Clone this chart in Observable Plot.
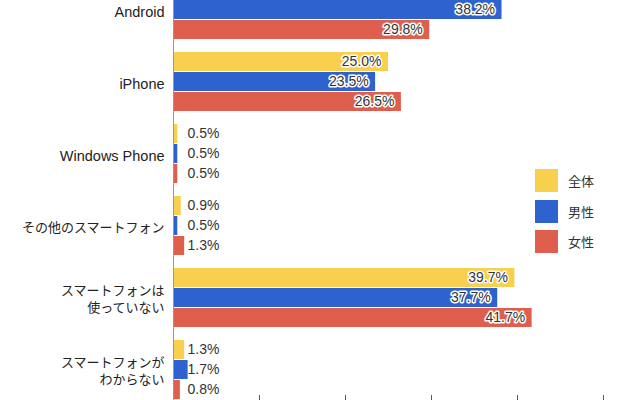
<!DOCTYPE html>
<html><head><meta charset="utf-8">
<script src="https://cdn.jsdelivr.net/npm/d3@7"></script>
<script src="https://cdn.jsdelivr.net/npm/@observablehq/plot@0.6"></script>
<style>
html,body{margin:0;padding:0;background:#fff;}
#wrap{position:relative;width:640px;height:400px;overflow:hidden;}
#chart svg{position:absolute;left:0;top:-28.4px;}
#legend{position:absolute;left:535px;top:169px;font-family:"Noto Sans CJK JP",sans-serif;font-size:13px;color:#333;}
.item{display:flex;align-items:center;height:23px;margin-bottom:7.5px;}
.sw{width:23px;height:23px;margin-right:10px;}
</style></head><body>
<div id="wrap"><div id="chart"></div><div id="legend"></div></div>
<script>
const categories = ["Android", "iPhone", "Windows Phone", "その他のスマートフォン", "スマートフォンは\n使っていない", "スマートフォンが\nわからない"];
const series = ["全体", "男性", "女性"];
const zentai = [34.0, 25.0, 0.5, 0.9, 39.7, 1.3];
const dansei = [38.2, 23.5, 0.5, 0.5, 37.7, 1.7];
const josei  = [29.8, 26.5, 0.5, 1.3, 41.7, 0.8];
const colors = ["#F9CF4E", "#2E63CF", "#DF5F4E"];
const xTicks = [10, 20, 30, 40, 50];

const valuesBySeries = [zentai, dansei, josei];
const rows = categories.flatMap((c, i) => series.map((s, j) => ({category: c, series: s, value: valuesBySeries[j][i]})));
const fmt = d => d.value.toFixed(1) + "%";

const chart = Plot.plot({
  width: 640,
  height: 466.8,
  marginTop: 0,
  marginBottom: 30,
  marginLeft: 173,
  marginRight: 37,
  style: {fontFamily: '"Liberation Sans","Noto Sans CJK JP",sans-serif', fontSize: "14px", background: "#fff"},
  x: {domain: [0, 50]},
  fy: {domain: categories, padding: 0, axis: null},
  y: {domain: series, paddingInner: 0.03, paddingOuter: 0.28, axis: null},
  color: {domain: series, range: colors},
  marks: [
    Plot.barX(rows, {fy: "category", y: "series", x: "value", fill: "series"}),
    Plot.ruleX([0], {stroke: "#999", strokeWidth: 1}),
    Plot.text(rows.filter(d => d.value >= 10), {fy: "category", y: "series", x: "value", text: fmt, textAnchor: "end", dx: -7, fill: "#333", stroke: "white", strokeWidth: 3, paintOrder: "stroke", fontSize: 14}),
    Plot.text(rows.filter(d => d.value < 10), {fy: "category", y: "series", x: d => 0, text: fmt, textAnchor: "start", dx: 14, fill: "#333", fontSize: 14}),
    Plot.text(categories, {fy: d => d, text: d => d, frameAnchor: "left", textAnchor: "end", dx: -9, fill: "#222", fontSize: d => /[A-Za-z]/.test(d) ? 14.5 : 13, lineHeight: 1.3}),
    Plot.axisX(xTicks, {tickSize: -11, tickFormat: () => "", stroke: "#555"})
  ]
});
document.getElementById("chart").appendChild(chart);

const legend = document.getElementById("legend");
series.forEach((s, i) => {
  const item = document.createElement("div");
  item.className = "item";
  const sw = document.createElement("div");
  sw.className = "sw";
  sw.style.background = colors[i];
  const t = document.createElement("span");
  t.textContent = s;
  item.appendChild(sw); item.appendChild(t);
  legend.appendChild(item);
});
</script>
</body></html>
